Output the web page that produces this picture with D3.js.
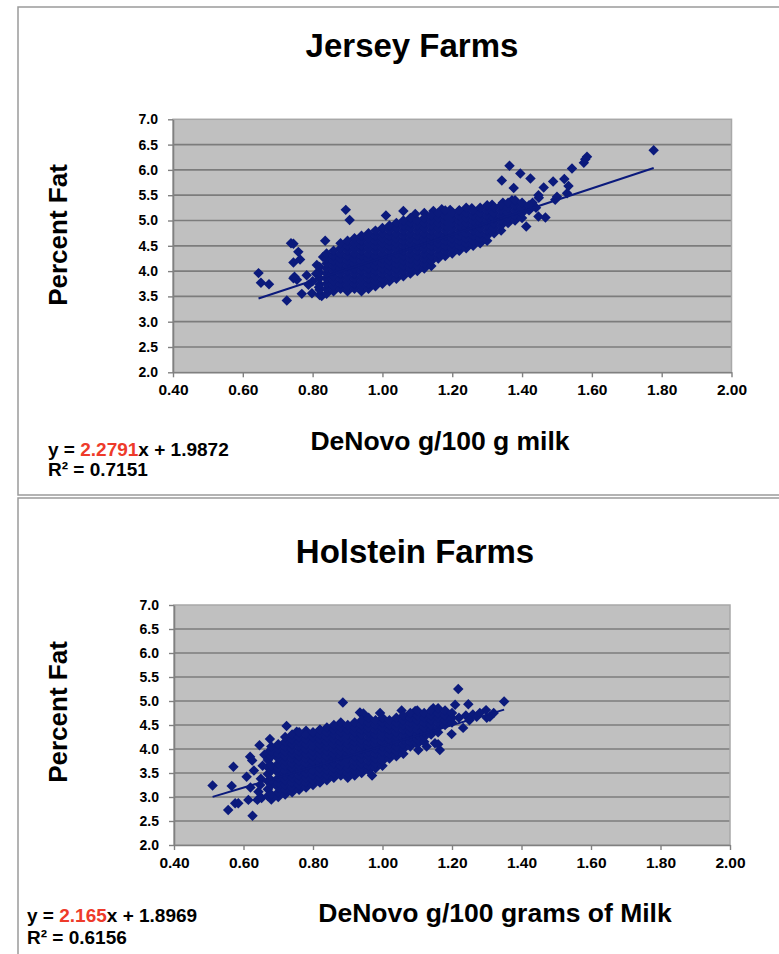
<!DOCTYPE html>
<html><head><meta charset="utf-8">
<script src="https://cdn.jsdelivr.net/npm/d3@7"></script>
<style>
body{margin:0;background:#fff}
svg{display:block}
text{font-family:"Liberation Sans",Arial,Helvetica,sans-serif;font-weight:bold;fill:#000}
</style>
</head><body>
<svg id="c" width="779" height="954"></svg>
<script>
// ---------- data ----------
const xTicks = [0.40,0.60,0.80,1.00,1.20,1.40,1.60,1.80,2.00];
const yTicks = [2.0,2.5,3.0,3.5,4.0,4.5,5.0,5.5,6.0,6.5,7.0];
const panelTitles = ["Jersey Farms","Holstein Farms"];
const xAxisTitles = ["DeNovo g/100 g milk","DeNovo g/100 grams of Milk"];
const yAxisTitle = "Percent Fat";
const slopes = [2.2791, 2.165];
const slopeLabels = ["2.2791","2.165"];
const intercepts = ["1.9872","1.8969"];
const rSquared = ["0.7151","0.6156"];

// Jersey: scattered points [DeNovo, fat]
const jerseyOutliers = [
 [0.645,3.96],[0.652,3.77],[0.675,3.74],[0.726,3.42],[0.738,4.55],[0.745,4.54],[0.759,4.38],
 [0.764,4.23],[0.745,4.17],[0.745,3.86],[0.755,3.83],[0.748,3.89],[0.769,3.55],[0.783,3.92],
 [0.788,3.73],[0.798,3.56],[0.800,3.80],[0.810,3.95],[0.826,3.51],[0.836,4.60],[0.895,5.21],
 [0.906,5.01],[1.010,5.10],[1.060,5.19],[1.094,5.13],[1.120,5.15],[1.146,5.19],[1.170,5.22],
 [1.194,5.21],[1.220,5.20],[1.256,5.24],[1.314,5.31],[1.342,5.79],[1.345,5.35],[1.364,6.08],
 [1.371,5.40],[1.376,5.64],[1.395,5.93],[1.412,4.88],[1.424,5.83],[1.430,5.35],[1.440,5.25],
 [1.447,5.08],[1.447,5.50],[1.448,5.45],[1.462,5.65],[1.467,5.06],[1.495,5.41],[1.500,5.47],
 [1.489,5.77],[1.521,5.82],[1.529,5.54],[1.533,5.68],[1.543,6.03],[1.577,6.14],[1.581,6.21],
 [1.586,6.26],[1.777,6.39],[0.812,4.12],[0.818,3.68],[0.830,4.28]
];
// Jersey: dense cloud, per DeNovo value the fat values
const jerseyCloud = [
 [0.82,[3.53,3.63,3.74,3.86,3.97,4.08]],
 [0.84,[3.55,3.65,3.75,3.85,3.95,4.05,4.15,4.25,4.35]],
 [0.86,[3.60,3.70,3.80,3.90,4.00,4.10,4.20,4.30,4.40]],
 [0.88,[3.65,3.75,3.85,3.95,4.05,4.15,4.25,4.35,4.45,4.55]],
 [0.90,[3.60,3.70,3.80,3.90,4.00,4.10,4.20,4.30,4.40,4.50,4.60]],
 [0.92,[3.65,3.75,3.85,3.95,4.05,4.15,4.25,4.35,4.45,4.55,4.65]],
 [0.94,[3.60,3.70,3.80,3.90,4.00,4.10,4.20,4.30,4.40,4.50,4.60,4.70]],
 [0.96,[3.65,3.75,3.85,3.95,4.05,4.15,4.25,4.35,4.45,4.55,4.65,4.75]],
 [0.98,[3.70,3.80,3.90,4.00,4.10,4.20,4.30,4.40,4.50,4.60,4.70,4.80]],
 [1.00,[3.75,3.85,3.95,4.05,4.15,4.25,4.35,4.45,4.55,4.65,4.75,4.85]],
 [1.02,[3.80,3.90,4.00,4.10,4.20,4.30,4.40,4.50,4.60,4.70,4.80,4.90]],
 [1.04,[3.85,3.95,4.05,4.15,4.25,4.35,4.45,4.55,4.65,4.75,4.85,4.95]],
 [1.06,[3.90,4.00,4.10,4.20,4.30,4.40,4.50,4.60,4.70,4.80,4.90,5.00]],
 [1.08,[3.95,4.05,4.15,4.25,4.35,4.45,4.55,4.65,4.75,4.85,4.95,5.05]],
 [1.10,[4.00,4.10,4.20,4.30,4.40,4.50,4.60,4.70,4.80,4.90,5.00]],
 [1.12,[4.05,4.15,4.25,4.35,4.45,4.55,4.65,4.75,4.85,4.95,5.05]],
 [1.14,[4.10,4.20,4.30,4.40,4.50,4.60,4.70,4.80,4.90,5.00,5.10]],
 [1.16,[4.25,4.35,4.45,4.55,4.65,4.75,4.85,4.95,5.05,5.15]],
 [1.18,[4.30,4.40,4.50,4.60,4.70,4.80,4.90,5.00,5.10,5.20]],
 [1.20,[4.35,4.45,4.55,4.65,4.75,4.85,4.95,5.05,5.15]],
 [1.22,[4.40,4.50,4.60,4.70,4.80,4.90,5.00,5.10,5.20]],
 [1.24,[4.45,4.55,4.65,4.75,4.85,4.95,5.05,5.15,5.25]],
 [1.26,[4.50,4.60,4.70,4.80,4.90,5.00,5.10,5.20]],
 [1.28,[4.55,4.65,4.75,4.85,4.95,5.05,5.15,5.25]],
 [1.30,[4.60,4.70,4.80,4.90,5.00,5.10,5.20,5.30]],
 [1.32,[4.75,4.85,4.95,5.05,5.15,5.25]],
 [1.34,[4.80,4.90,5.00,5.10,5.20,5.30]],
 [1.36,[4.95,5.05,5.15,5.25,5.35]],
 [1.38,[5.00,5.10,5.20,5.30,5.40]],
 [1.40,[5.05,5.15,5.25,5.35]],
 [1.42,[5.20,5.30]]
];

// Holstein: scattered points
const holsteinOutliers = [
 [0.511,3.24],[0.556,2.73],[0.566,3.23],[0.571,3.63],[0.576,2.87],[0.585,2.87],[0.609,3.42],
 [0.614,2.94],[0.619,3.84],[0.625,3.76],[0.626,2.61],[0.640,2.94],[0.643,3.11],[0.646,4.08],
 [0.630,3.55],[0.620,3.20],[0.676,4.21],[0.695,4.01],[0.724,4.48],[0.753,4.36],[0.780,4.38],
 [0.820,4.40],[0.849,4.38],[0.886,4.97],[0.935,4.76],[0.945,4.74],[0.970,3.45],[0.993,4.75],
 [1.055,4.80],[1.094,4.79],[1.098,4.72],[1.127,4.05],[1.103,3.98],[1.151,4.12],[1.146,4.85],
 [1.165,3.98],[1.160,4.10],[1.199,4.31],[1.209,4.92],[1.218,5.25],[1.232,4.44],[1.247,4.93],
 [1.220,4.65],[1.240,4.70],[1.260,4.72],[1.271,4.67],[1.298,4.81],[1.300,4.65],[1.309,4.67],
 [1.320,4.75],[1.350,4.99],[1.250,4.60],[1.280,4.75],
 [0.650,3.38],[0.655,3.65],[0.652,2.98],[0.660,3.88],[0.648,3.25]
];
// Holstein: dense cloud
const holsteinCloud = [
 [0.67,[3.02,3.16,3.33,3.48,3.62,3.77,3.92]],
 [0.68,[2.95,3.05,3.25,3.35,3.55,3.65,3.85,3.95,4.05]],
 [0.70,[3.00,3.10,3.20,3.30,3.40,3.50,3.60,3.70,3.80,3.90,4.00,4.10]],
 [0.72,[3.05,3.15,3.25,3.35,3.45,3.55,3.65,3.75,3.85,3.95,4.05,4.15,4.25]],
 [0.74,[3.10,3.20,3.30,3.40,3.50,3.60,3.70,3.80,3.90,4.00,4.10,4.20,4.30]],
 [0.76,[3.15,3.25,3.35,3.45,3.55,3.65,3.75,3.85,3.95,4.05,4.15,4.25,4.35]],
 [0.78,[3.20,3.30,3.40,3.50,3.60,3.70,3.80,3.90,4.00,4.10,4.20,4.30]],
 [0.80,[3.25,3.35,3.45,3.55,3.65,3.75,3.85,3.95,4.05,4.15,4.25,4.35]],
 [0.82,[3.30,3.40,3.50,3.60,3.70,3.80,3.90,4.00,4.10,4.20,4.30,4.40]],
 [0.84,[3.35,3.45,3.55,3.65,3.75,3.85,3.95,4.05,4.15,4.25,4.35,4.45]],
 [0.86,[3.40,3.50,3.60,3.70,3.80,3.90,4.00,4.10,4.20,4.30,4.40,4.50]],
 [0.88,[3.45,3.55,3.65,3.75,3.85,3.95,4.05,4.15,4.25,4.35,4.45,4.55]],
 [0.90,[3.40,3.50,3.60,3.70,3.80,3.90,4.00,4.10,4.20,4.30,4.40,4.50]],
 [0.92,[3.45,3.55,3.65,3.75,3.85,3.95,4.05,4.15,4.25,4.35,4.45,4.55]],
 [0.94,[3.50,3.60,3.70,3.80,3.90,4.00,4.10,4.20,4.30,4.40,4.50,4.60]],
 [0.96,[3.55,3.65,3.75,3.85,3.95,4.05,4.15,4.25,4.35,4.45,4.55,4.65]],
 [0.98,[3.60,3.70,3.80,3.90,4.00,4.10,4.20,4.30,4.40,4.50,4.60]],
 [1.00,[3.65,3.75,3.85,3.95,4.05,4.15,4.25,4.35,4.45,4.55,4.65]],
 [1.02,[3.80,3.90,4.00,4.10,4.20,4.30,4.40,4.50,4.60]],
 [1.04,[3.85,3.95,4.05,4.15,4.25,4.35,4.45,4.55,4.65]],
 [1.06,[3.90,4.00,4.10,4.20,4.30,4.40,4.50,4.60,4.70]],
 [1.08,[4.05,4.15,4.25,4.35,4.45,4.55,4.65,4.75]],
 [1.10,[4.10,4.20,4.30,4.40,4.50,4.60,4.70,4.80]],
 [1.12,[4.15,4.25,4.35,4.45,4.55,4.65,4.75]],
 [1.14,[4.30,4.40,4.50,4.60,4.70,4.80]],
 [1.16,[4.35,4.45,4.55,4.65,4.75,4.85]],
 [1.18,[4.50,4.60,4.70,4.80]],
 [1.20,[4.55,4.65,4.75]]
];

// ---------- drawing ----------
const svg = d3.select("#c");
const NAVY = "#0b1a7c";
const RED = "#ee3a2a";

// outer frames
svg.append("rect").attr("x",18).attr("y",7).attr("width",800).attr("height",488)
  .attr("fill","none").attr("stroke","#9a9a9a").attr("stroke-width",1.5);
svg.append("rect").attr("x",18).attr("y",498).attr("width",800).attr("height",520)
  .attr("fill","none").attr("stroke","#9a9a9a").attr("stroke-width",1.5);

const diamond = { draw(ctx, size){ const r = Math.sqrt(size/2);
  ctx.moveTo(0,-r); ctx.lineTo(r,0); ctx.lineTo(0,r); ctx.lineTo(-r,0); ctx.closePath(); } };

const layouts = [
 {left:173, right:731.5, top:119.3, bottom:372.3, titleX:412, titleY:57, xTitleX:440, xTitleY:450,
  eqX:48, eqY:456, eq2Y:476, yTitleX:67, yTitleY:235},
 {left:174, right:730, top:605, bottom:845, titleX:415, titleY:563, xTitleX:495, xTitleY:922,
  eqX:27, eqY:922, eq2Y:944, yTitleX:67, yTitleY:712}
];
const datasets = [
  {outliers:jerseyOutliers, cloud:jerseyCloud},
  {outliers:holsteinOutliers, cloud:holsteinCloud}
];

layouts.forEach((L,i)=>{
  const g = svg.append("g");
  const x = d3.scaleLinear().domain([0.4,2.0]).range([L.left,L.right]);
  const y = d3.scaleLinear().domain([2.0,7.0]).range([L.bottom,L.top]);

  // plot area
  g.append("rect").attr("x",L.left).attr("y",L.top).attr("width",L.right-L.left).attr("height",L.bottom-L.top)
    .attr("fill","#c0c0c0");
  g.selectAll(".grid").data(yTicks.filter(t=>t>2.0 && t<7.0)).join("line")
    .attr("x1",L.left).attr("x2",L.right).attr("y1",d=>y(d)).attr("y2",d=>y(d))
    .attr("stroke","#7c7c7c").attr("stroke-width",1.7);
  g.append("rect").attr("x",L.left).attr("y",L.top).attr("width",L.right-L.left).attr("height",L.bottom-L.top)
    .attr("fill","none").attr("stroke","#a8a8a8").attr("stroke-width",1.5);

  // axes
  const ya = g.append("g").attr("transform",`translate(${L.left},0)`)
    .call(d3.axisLeft(y).tickValues(yTicks).tickFormat(d3.format(".1f")).tickSize(5).tickSizeOuter(0).tickPadding(10));
  const xa = g.append("g").attr("transform",`translate(0,${L.bottom})`)
    .call(d3.axisBottom(x).tickValues(xTicks).tickFormat(d3.format(".2f")).tickSize(5).tickSizeOuter(0).tickPadding(7));
  [ya,xa].forEach(a=>{
    a.select(".domain").attr("stroke","#808080").attr("stroke-width",1.6);
    a.selectAll(".tick line").attr("stroke","#808080").attr("stroke-width",1.4);
    a.selectAll(".tick text").style("font-family",'"Liberation Sans",Arial,sans-serif')
      .style("font-weight","bold").attr("fill","#000");
  });
  ya.selectAll(".tick text").style("font-size","14px");
  xa.selectAll(".tick text").style("font-size","15.5px");

  // points
  const ds = datasets[i];
  const pts = ds.outliers.concat(ds.cloud.flatMap(([dx,ys])=>ys.map(v=>[dx,v])));
  g.selectAll(".pt").data(pts).join("path")
    .attr("transform",d=>`translate(${x(d[0])},${y(d[1])})`)
    .attr("d",d3.symbol().type(diamond).size(55))
    .attr("fill",NAVY);

  // trend line
  const xs = pts.map(d=>d[0]);
  const xmin = d3.min(xs), xmax = d3.max(xs);
  const b = +intercepts[i], m = slopes[i];
  g.append("path").datum([xmin,xmax])
    .attr("d",d3.line().x(d=>x(d)).y(d=>y(m*d+b)))
    .attr("stroke",NAVY).attr("stroke-width",2).attr("fill","none");

  // titles
  g.append("text").attr("x",L.titleX).attr("y",L.titleY).attr("text-anchor","middle")
    .style("font-size","33px").text(panelTitles[i]);
  g.append("text").attr("x",L.xTitleX).attr("y",L.xTitleY).attr("text-anchor","middle")
    .style("font-size","26.5px").text(xAxisTitles[i]);
  g.append("text").attr("transform",`translate(${L.yTitleX},${L.yTitleY}) rotate(-90)`)
    .attr("text-anchor","middle").style("font-size","26px").text(yAxisTitle);

  // equation
  const eq = g.append("text").attr("x",L.eqX).attr("y",L.eqY).style("font-size","19px");
  eq.append("tspan").text("y = ");
  eq.append("tspan").attr("fill",RED).style("fill",RED).text(slopeLabels[i]);
  eq.append("tspan").text("x + " + intercepts[i]);
  g.append("text").attr("x",L.eqX).attr("y",L.eq2Y).style("font-size","19px").text("R\u00b2 = " + rSquared[i]);
});
</script>
</body></html>
